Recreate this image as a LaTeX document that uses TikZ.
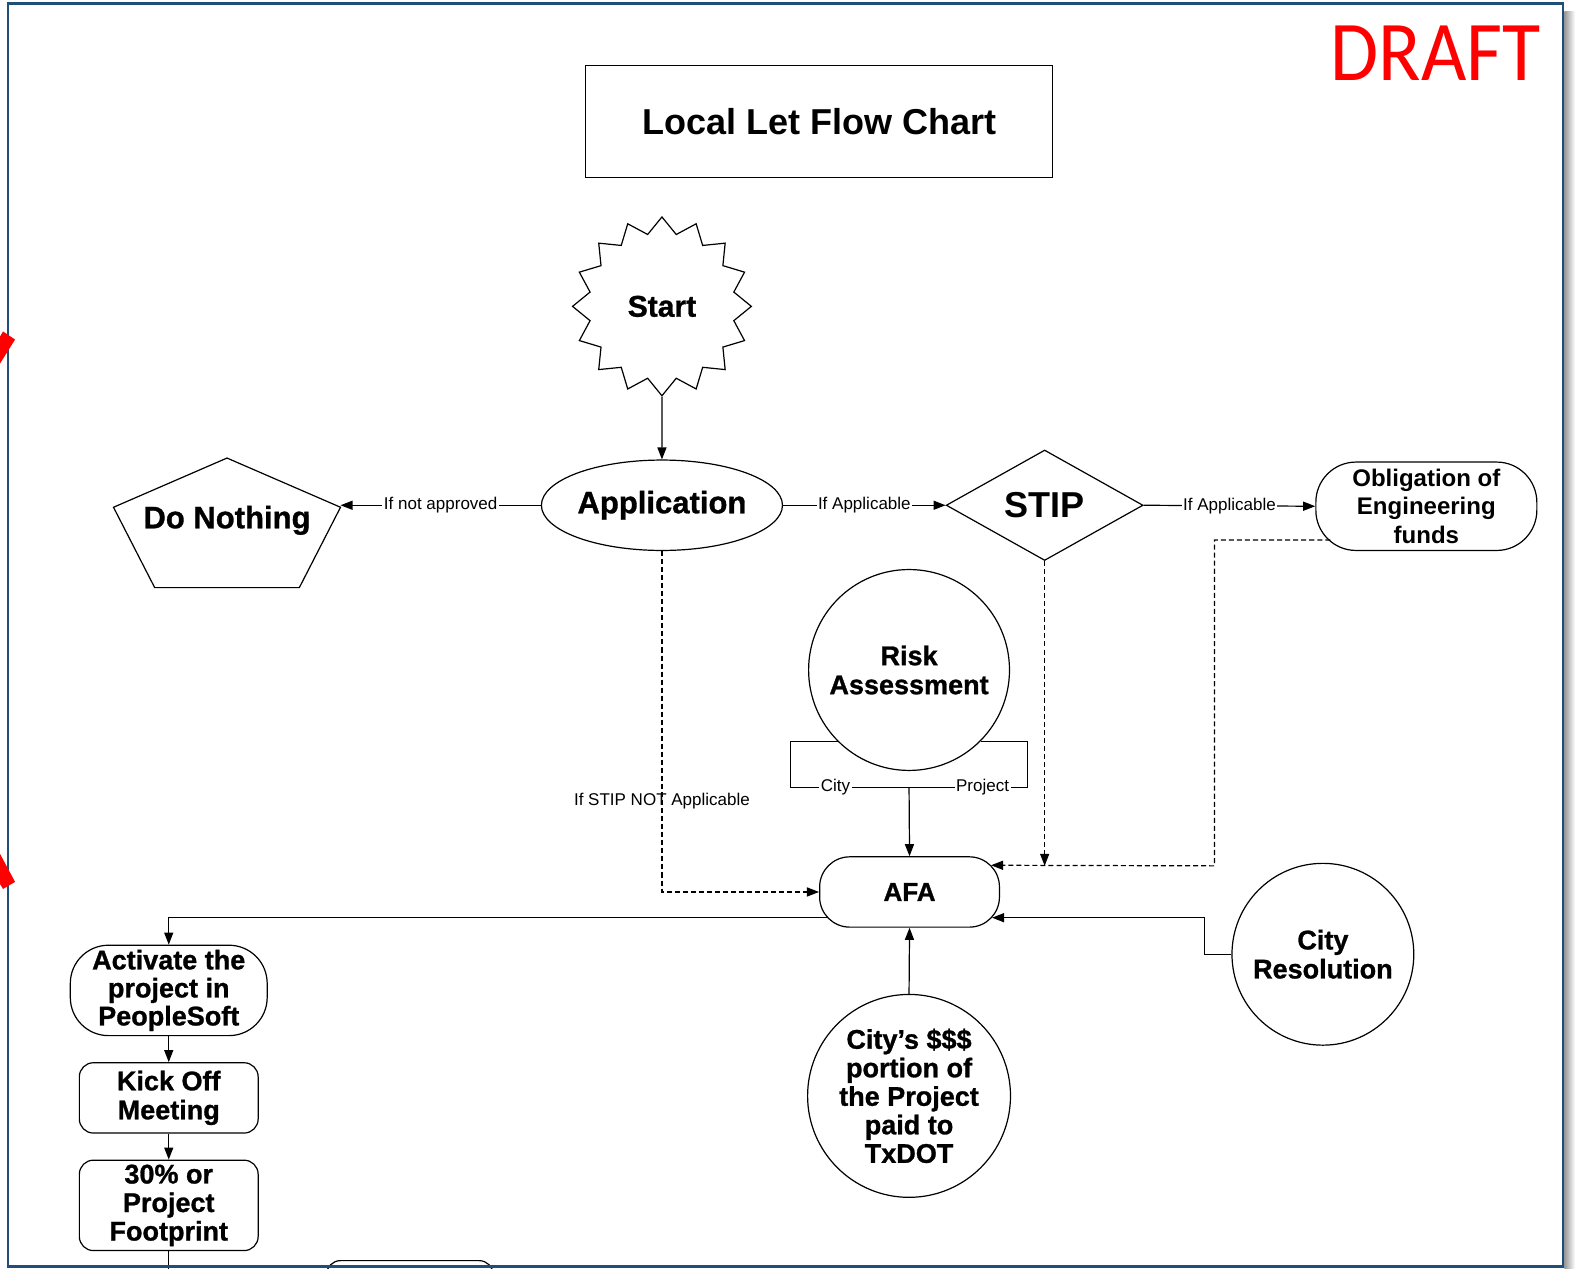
\documentclass[tikz,border=0pt]{standalone}
\usepackage{fontspec}
\setmainfont{Liberation Sans}
\newfontfamily\draftfont{Carlito}
\newfontfamily\heavy{Liberation Sans Bold}[FakeBold=1]
\usetikzlibrary{shapes.geometric,shapes.misc,arrows.meta,calc}
\definecolor{framecol}{HTML}{1F4E79}
\newcommand{\fsz}[2]{\fontsize{#1}{#2}\selectfont}
\begin{document}
\begin{tikzpicture}[x=1bp,y=-1bp,
  every node/.style={inner sep=0pt, align=center},
  shp/.style={draw, line width=1.2bp, font=\heavy\fsz{27}{29}},
  arr/.style={-{Triangle[length=12bp,width=9bp]}},
  con/.style={line width=1.2bp},
  dsh/.style={dash pattern=on 5bp off 3bp},
  lbl/.style={font=\fsz{17}{19}, fill=white, inner sep=1.5bp}]
\useasboundingbox (0,0) rectangle (1568,1262.4);

% title and draft mark
\node[draw, line width=1.2bp, minimum width=465bp, minimum height=112bp, font=\bfseries\fsz{36}{40}] (title) at (815.5,121) {Local Let Flow Chart};
\node[font=\draftfont\fsz{85}{90}, text=red] (draft) at (1429,53) {\scalebox{0.92}[1]{DRAFT}};

% nodes
\node[shp, star, star points=16, star point ratio=1.22, minimum size=178bp, font=\heavy\fsz{30}{32}] (start) at (659,305) {Start};
\node[shp, ellipse, minimum width=240bp, minimum height=90bp, font=\heavy\fsz{31}{34}] (app) at (659,503) {Application};
\draw[line width=1.2bp] (226,456) -- (339,505) -- (298,585) -- (154,585) -- (113,505) -- cycle;
\node[font=\heavy\fsz{31}{34}] (dn) at (226,518) {Do Nothing};
\coordinate (dnR) at (339,503);
\node[shp, diamond, minimum width=196bp, minimum height=110bp, font=\bfseries\fsz{36}{40}] (stip) at (1040,503) {STIP};
\node[shp, rounded corners=40bp, minimum width=220bp, minimum height=88bp, font=\bfseries\fsz{24}{28.5}] (obl) at (1420,504) {Obligation of\\Engineering\\funds};
\node[shp, circle, minimum size=200bp] (risk) at (905,667) {Risk\\Assessment};
\node[shp, rounded corners=30bp, minimum width=179bp, minimum height=70bp, font=\heavy\fsz{26}{29}] (afa) at (905.5,888) {AFA};
\node[shp, circle, minimum size=181bp] (cr) at (1317,950) {City\\Resolution};
\node[shp, circle, minimum size=202bp, font=\heavy\fsz{27}{28.5}] (cs) at (905,1091) {City’s \$\$\$\\portion of\\the Project\\paid to\\TxDOT};
\node[shp, rounded corners=38bp, minimum width=196bp, minimum height=90bp, font=\heavy\fsz{27}{28}] (act) at (168,986) {Activate the\\project in\\PeopleSoft};
\node[shp, rounded corners=14bp, minimum width=178bp, minimum height=70bp] (kick) at (168,1093) {Kick Off\\Meeting};
\node[shp, rounded corners=14bp, minimum width=178bp, minimum height=90bp, font=\heavy\fsz{27}{28.5}] (foot) at (168,1200) {30\% or\\Project\\Footprint};

% connectors
\draw[con,arr] (start.south) -- (app.north);
\draw[con,arr] (app.west) -- node[lbl]{If not approved} (dnR);
\draw[con,arr] (app.east) -- node[lbl]{If Applicable} (stip.west);
\draw[con,arr] (stip.east) -- node[lbl]{If Applicable} (obl.west);

\coordinate (j1) at (1209,862);
\draw[con,dsh,arr] ([xshift=15bp,yshift=11bp]obl.south west) -| (j1) -- ([xshift=-9bp,yshift=-9bp]afa.north east);
\draw[con,dsh,arr] (stip.south) -- (stip.south |- j1);
\draw[con,dsh,arr] (app.south) |- node[pos=0.366, font=\fsz{17}{19}]{If STIP NOT Applicable} (afa.west);

\coordinate (rm) at (905,784);
\draw[con] (risk.225) -| (787,784) -- node[lbl,pos=0.38]{City} (rm);
\draw[con] (risk.315) -| (1023,784) -- node[lbl,pos=0.38]{Project} (rm);
\draw[con,arr] (rm) -- (afa.north);

\draw[con,arr] ([xshift=8bp,yshift=10bp]afa.south west) -| (act.north);
\draw[con,arr] (cr.west) -- ++(-27,0) |- ([xshift=-8bp,yshift=10bp]afa.south east);
\draw[con,arr] (cs.north) -- (afa.south);
\draw[con,arr] (act.south) -- (kick.north);
\draw[con,arr] (kick.south) -- (foot.north);
\draw[con] (foot.south) -- ++(0,30);
\draw[line width=1.2bp, rounded corners=14bp] (325,1285) -- (325,1255) -- (491,1255) -- (491,1285);

% frame
\shade[left color=black!40, right color=white] (1557.5,11) rectangle (1568,1262.4);
\draw[framecol, line width=2.5bp] (8,3.5) rectangle (1556,1261);
\fill[red] (0,335) -- (3,330) -- (15,338) -- (0,362) -- cycle;
\fill[red] (0,850) -- (15,878) -- (3,885) -- (0,880) -- cycle;
\end{tikzpicture}
\end{document}
